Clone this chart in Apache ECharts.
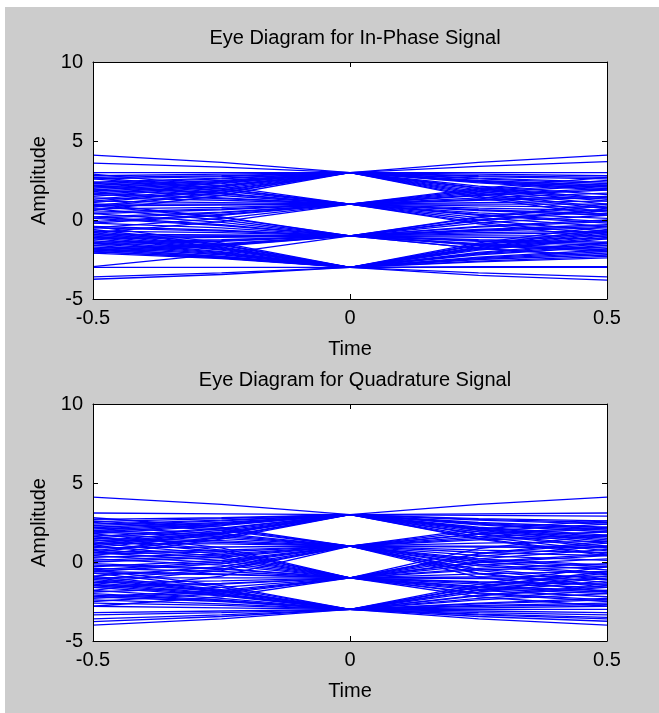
<!DOCTYPE html>
<html>
<head>
<meta charset="utf-8">
<script src="https://cdn.jsdelivr.net/npm/echarts@6/dist/echarts.min.js"></script>
<style>
  html, body { margin: 0; padding: 0; background: #ffffff; }
  #frame { position: absolute; left: 5px; top: 7px; width: 654px; height: 706px; background: #cccccc; }
  #chart { position: absolute; left: 0; top: 0; width: 659px; height: 713px; }
</style>
</head>
<body>
<div id="frame"></div>
<div id="chart"></div>
<script>
// Sample instants of every trace (one symbol period, centred on the decision instant)
const timePoints = [-0.5, -0.25, 0, 0.25, 0.5];

// Axis ticks
const timeTickValues = [-0.5, 0, 0.5];
const timeTickLabels = ['-0.5', '0', '0.5'];
const ampTickValues = [-5, 0, 5, 10];
const ampTickLabels = ['-5', '0', '5', '10'];

// In-phase traces: [t=-0.5, t=-0.25, t=0 (symbol), t=0.25, t=0.5]
const inPhaseSym3 = [
  [4.1, 3.65, 3, 3.0, 3.0], [3.6, 3.35, 3, 3.65, 4.1], [3.0, 3.0, 3, 2.5, 2.2], [2.8, 2.9, 3, 3.4, 3.7],
  [2.6, 2.75, 3, 1.9, 1.2], [2.4, 2.65, 3, 2.75, 2.6], [2.2, 2.5, 3, 1.5, 0.5], [2.0, 2.4, 3, 2.35, 1.9],
  [1.8, 2.3, 3, 2.9, 2.8], [1.6, 2.15, 3, 1.8, 1.0], [1.3, 2.0, 3, 2.65, 2.4], [1.1, 1.85, 3, 2.15, 1.6],
  [0.9, 1.75, 3, 1.4, 0.3], [0.6, 1.55, 3, 2.4, 2.0], [2.3, 2.6, 3, 2.05, 1.4], [1.5, 2.1, 3, 1.7, 0.8],
  [2.7, 2.8, 3, 2.45, 2.1], [2.1, 2.45, 3, 2.8, 2.7], [1.9, 2.35, 3, 2.0, 1.3], [1.2, 1.9, 3, 2.45, 2.1],
  [0.8, 1.7, 3, 1.6, 0.7], [1.7, 2.2, 3, 2.6, 2.3]
];
const inPhaseSym1 = [
  [2.9, 2.15, 1, 2.0, 2.7], [2.6, 1.95, 1, 0.65, 0.4], [2.4, 1.85, 1, 1.55, 1.9], [2.1, 1.65, 1, -0.15, -0.9],
  [1.9, 1.55, 1, 1.1, 1.2], [1.7, 1.4, 1, 1.8, 2.3], [1.4, 1.25, 1, 0.45, 0.1], [1.2, 1.1, 1, 1.3, 1.5],
  [0.9, 0.95, 1, 0.15, -0.4], [0.7, 0.8, 1, 1.6, 2.0], [0.4, 0.65, 1, 0.9, 0.8], [0.1, 0.45, 1, 0.0, -0.7],
  [-0.2, 0.3, 1, 1.0, 1.0], [-0.5, 0.1, 1, 0.75, 0.6], [-0.8, -0.1, 1, 0.3, -0.2], [1.0, 1.0, 1, 1.4, 1.7],
  [2.7, 2.0, 1, 1.25, 1.4], [2.2, 1.7, 1, 1.9, 2.5], [1.6, 1.35, 1, 0.35, -0.1], [0.5, 0.7, 1, 1.7, 2.2],
  [-0.1, 0.35, 1, 0.6, 0.3], [0.2, 0.5, 1, -0.25, -1.1]
];
const inPhaseSymM1 = [
  [1.0, 0.2, -1, -1.8, -2.3], [0.7, 0.0, -1, 0.15, 0.9], [0.4, -0.15, -1, -0.7, -0.5], [0.1, -0.35, -1, -1.5, -1.8],
  [-0.2, -0.5, -1, -0.2, 0.3], [-0.4, -0.65, -1, -1.1, -1.2], [-0.7, -0.8, -1, -0.05, 0.6], [-0.9, -0.95, -1, -1.55, -1.9],
  [-1.2, -1.1, -1, -0.45, -0.1], [-1.4, -1.25, -1, -1.3, -1.5], [-1.6, -1.35, -1, -0.4, 0.0], [-1.9, -1.55, -1, -0.9, -0.8],
  [-2.1, -1.65, -1, -1.6, -2.0], [-2.95, -2.15, -1, -1.0, -1.0], [-1.8, -1.5, -1, -0.6, -0.3], [-1.0, -1.0, -1, -1.35, -1.6],
  [0.9, 0.15, -1, -0.8, -0.7], [0.2, -0.3, -1, -1.25, -1.4], [-0.5, -0.7, -1, 0.2, 1.0], [-1.1, -1.05, -1, -1.8, -2.3],
  [-1.5, -1.3, -1, -0.65, -0.4], [-2.0, -1.6, -1, 0.0, 0.7]
];
const inPhaseSymM3 = [
  [-0.4, -1.45, -3, -2.5, -2.2], [-0.7, -1.6, -3, -3.0, -3.0], [-1.0, -1.8, -3, -1.9, -1.2], [-1.3, -2.0, -3, -3.35, -3.6],
  [-1.5, -2.1, -3, -1.55, -0.6], [-1.7, -2.2, -3, -2.15, -1.6], [-1.9, -2.35, -3, -2.35, -1.9], [-2.1, -2.45, -3, -3.5, -3.8],
  [-2.0, -2.4, -3, -2.1, -1.5], [-3.0, -3.0, -3, -2.6, -2.3], [-3.75, -3.45, -3, -1.75, -0.9], [-1.8, -2.3, -3, -2.2, -1.7],
  [-1.2, -1.9, -3, -1.85, -1.1], [-0.9, -1.75, -3, -2.45, -2.1], [-3.6, -3.35, -3, -1.45, -0.4], [-1.6, -2.15, -3, -2.65, -2.4],
  [-0.6, -1.55, -3, -1.7, -0.8], [-1.1, -1.85, -3, -2.95, -2.95], [-1.4, -2.05, -3, -2.05, -1.4], [-2.0, -2.4, -3, -1.8, -1.0],
  [-0.8, -1.7, -3, -2.4, -2.0], [-1.8, -2.3, -3, -1.6, -0.7]
];

// Quadrature traces: [t=-0.5, t=-0.25, t=0 (symbol), t=0.25, t=0.5]
const quadSym3 = [
  [4.1, 3.65, 3, 3.65, 4.1], [3.1, 3.05, 3, 3.05, 3.1], [2.55, 2.75, 3, 2.75, 2.6], [2.3, 2.6, 3, 2.1, 1.5],
  [2.0, 2.4, 3, 2.95, 2.9], [1.8, 2.3, 3, 1.75, 0.9], [1.5, 2.1, 3, 2.5, 2.2], [1.2, 1.9, 3, 2.35, 1.9],
  [0.9, 1.75, 3, 1.5, 0.5], [0.6, 1.55, 3, 2.2, 1.7], [2.7, 2.8, 3, 1.9, 1.2], [1.0, 1.8, 3, 2.65, 2.4],
  [1.6, 2.15, 3, 1.6, 0.7], [0.4, 1.45, 3, 1.8, 1.0], [2.1, 2.45, 3, 2.4, 2.0],
  [2.4, 2.65, 3, 2.05, 1.4], [1.9, 2.35, 3, 2.7, 2.5], [1.3, 2.0, 3, 2.0, 1.3], [0.7, 1.6, 3, 2.45, 2.1],
  [2.2, 2.5, 3, 1.45, 0.4], [1.1, 1.85, 3, 2.15, 1.6]
];
const quadSym1 = [
  [2.8, 2.2, 1, 1.8, 2.2], [2.5, 2.0, 1, 0.0, -0.5], [2.2, 1.8, 1, 1.4, 1.6], [1.9, 1.6, 1, -0.75, -1.6],
  [1.7, 1.5, 1, 0.95, 0.9], [1.4, 1.25, 1, 2.1, 2.6], [1.2, 1.15, 1, 0.2, -0.2], [0.9, 0.95, 1, 1.2, 1.3],
  [0.6, 0.75, 1, -0.45, -1.1], [0.3, 0.5, 1, 0.6, 0.4], [0.0, 0.3, 1, 1.6, 1.9], [-0.3, 0.1, 1, -0.95, -1.9],
  [-0.6, -0.1, 1, 0.4, 0.1], [-0.9, -0.3, 1, -0.25, -0.8], [-1.3, -0.55, 1, 1.0, 1.0], [-1.8, -0.9, 1, -0.55, -1.3],
  [0.5, 0.65, 1, 1.95, 2.4],
  [2.6, 2.1, 1, 1.5, 1.7], [2.0, 1.7, 1, -0.15, -0.7], [1.5, 1.35, 1, 1.75, 2.1], [0.1, 0.4, 1, -0.7, -1.5],
  [-0.5, 0.0, 1, 0.75, 0.6], [-1.1, -0.45, 1, 0.1, -0.3]
];
const quadSymM1 = [
  [1.8, 0.9, -1, -0.5, -0.3], [1.4, 0.65, -1, -2.0, -2.5], [1.0, 0.35, -1, 0.2, 0.8], [0.6, 0.1, -1, -1.4, -1.6],
  [0.2, -0.2, -1, 0.85, 1.7], [-0.1, -0.4, -1, -1.8, -2.2], [-0.4, -0.6, -1, -0.2, 0.2], [-0.7, -0.8, -1, -1.05, -1.1],
  [-1.0, -1.0, -1, 0.55, 1.3], [-1.3, -1.2, -1, -2.2, -2.8], [-1.6, -1.4, -1, -0.75, -0.6], [-1.9, -1.6, -1, 0.35, 1.0],
  [-2.2, -1.8, -1, -1.6, -1.9], [-2.5, -2.0, -1, -0.95, -0.9], [-2.8, -2.2, -1, 0.0, 0.5], [-0.2, -0.45, -1, -1.7, -2.0],
  [0.8, 0.25, -1, -1.25, -1.4],
  [1.6, 0.75, -1, -0.05, 0.4], [1.2, 0.5, -1, -1.55, -1.8], [0.4, -0.05, -1, 0.5, 1.2], [-0.6, -0.75, -1, -1.95, -2.4],
  [-1.5, -1.35, -1, -0.4, -0.1], [-2.3, -1.9, -1, -1.3, -1.4]
];
const quadSymM3 = [
  [-0.5, -1.5, -3, -2.3, -1.8], [-0.9, -1.75, -3, -3.2, -3.35], [-1.2, -1.9, -3, -1.55, -0.6], [-1.5, -2.1, -3, -3.35, -3.6],
  [-1.8, -2.3, -3, -2.6, -2.3], [-2.1, -2.45, -3, -3.6, -4.0], [-2.4, -2.65, -3, -1.9, -1.2], [-2.6, -2.75, -3, -3.45, -3.75],
  [-3.35, -3.2, -3, -2.8, -2.7], [-3.6, -3.35, -3, -2.1, -1.5], [-3.78, -3.45, -3, -3.0, -3.0], [-4.0, -3.6, -3, -2.4, -2.0],
  [-1.0, -1.8, -3, -1.75, -0.9], [-2.0, -2.4, -3, -2.75, -2.6], [-3.2, -3.1, -3, -3.1, -3.2], [-1.4, -2.05, -3, -1.4, -0.3],
  [-0.7, -1.6, -3, -2.15, -1.6], [-1.1, -1.85, -3, -3.3, -3.5], [-1.6, -2.15, -3, -1.6, -0.7], [-2.2, -2.5, -3, -2.9, -2.8],
  [-2.8, -2.9, -3, -1.8, -1.0], [-1.3, -2.0, -3, -2.65, -2.4]
];

const panels = [
  { title: 'Eye Diagram for In-Phase Signal', traces: [].concat(inPhaseSym3, inPhaseSym1, inPhaseSymM1, inPhaseSymM3) },
  { title: 'Eye Diagram for Quadrature Signal', traces: [].concat(quadSym3, quadSym1, quadSymM1, quadSymM3) }
];

const FONT = '"Liberation Sans", Arial, Helvetica, sans-serif';
const FONT_SIZE = 20;
const INK = '#000000';
const TRACE = '#0000ff';

const gridBoxes = [
  { left: 93, top: 62, width: 514, height: 237 },
  { left: 93, top: 404, width: 514, height: 237 }
];

function lookup(values, labels, v) {
  const i = values.findIndex(x => Math.abs(x - v) < 1e-9);
  return i >= 0 ? labels[i] : '';
}

const xAxes = [];
const yAxes = [];
const titles = [];
const series = [];

panels.forEach((panel, g) => {
  const box = gridBoxes[g];
  titles.push({
    text: panel.title,
    left: box.left + box.width / 2,
    textAlign: 'center',
    top: box.top - 39,
    textStyle: { fontFamily: FONT, fontSize: FONT_SIZE, fontWeight: 'normal', color: INK }
  });
  const tickStyle = { inside: true, length: 5, lineStyle: { color: INK, width: 1 } };
  const lineStyle = { show: true, onZero: false, lineStyle: { color: INK, width: 1 } };
  xAxes.push({
    gridIndex: g, type: 'value', position: 'bottom', min: -0.5, max: 0.5, interval: 0.5, z: 10,
    name: 'Time', nameLocation: 'middle', nameGap: 40,
    nameTextStyle: { fontFamily: FONT, fontSize: FONT_SIZE, color: INK },
    axisLine: lineStyle, axisTick: tickStyle, splitLine: { show: false },
    axisLabel: {
      fontFamily: FONT, fontSize: FONT_SIZE, color: INK, margin: 9,
      formatter: v => lookup(timeTickValues, timeTickLabels, v)
    }
  });
  xAxes.push({
    gridIndex: g, type: 'value', position: 'top', min: -0.5, max: 0.5, interval: 0.5, z: 10,
    axisLine: lineStyle, axisTick: tickStyle, splitLine: { show: false }, axisLabel: { show: false }
  });
  yAxes.push({
    gridIndex: g, type: 'value', position: 'left', min: -5, max: 10, interval: 5, z: 10,
    name: 'Amplitude', nameLocation: 'middle', nameGap: 41,
    nameTextStyle: { fontFamily: FONT, fontSize: FONT_SIZE, color: INK },
    axisLine: lineStyle, axisTick: tickStyle, splitLine: { show: false },
    axisLabel: {
      fontFamily: FONT, fontSize: FONT_SIZE, color: INK, margin: 10,
      formatter: v => lookup(ampTickValues, ampTickLabels, v)
    }
  });
  yAxes.push({
    gridIndex: g, type: 'value', position: 'right', min: -5, max: 10, interval: 5, z: 10,
    axisLine: lineStyle, axisTick: tickStyle, splitLine: { show: false }, axisLabel: { show: false }
  });

  panel.traces.forEach(trace => {
    series.push({
      type: 'line',
      xAxisIndex: g * 2,
      yAxisIndex: g * 2,
      data: timePoints.map((t, i) => [t, trace[i]]),
      symbol: 'none',
      silent: true,
      animation: false,
      z: 2,
      lineStyle: { color: TRACE, width: 1.3 }
    });
  });
});

const chart = echarts.init(document.getElementById('chart'), null, { renderer: 'canvas' });
chart.setOption({
  backgroundColor: 'transparent',
  animation: false,
  title: titles,
  grid: gridBoxes.map(b => Object.assign({ backgroundColor: '#ffffff', show: true, borderWidth: 0 }, b)),
  xAxis: xAxes,
  yAxis: yAxes,
  series: series
});
</script>
</body>
</html>
